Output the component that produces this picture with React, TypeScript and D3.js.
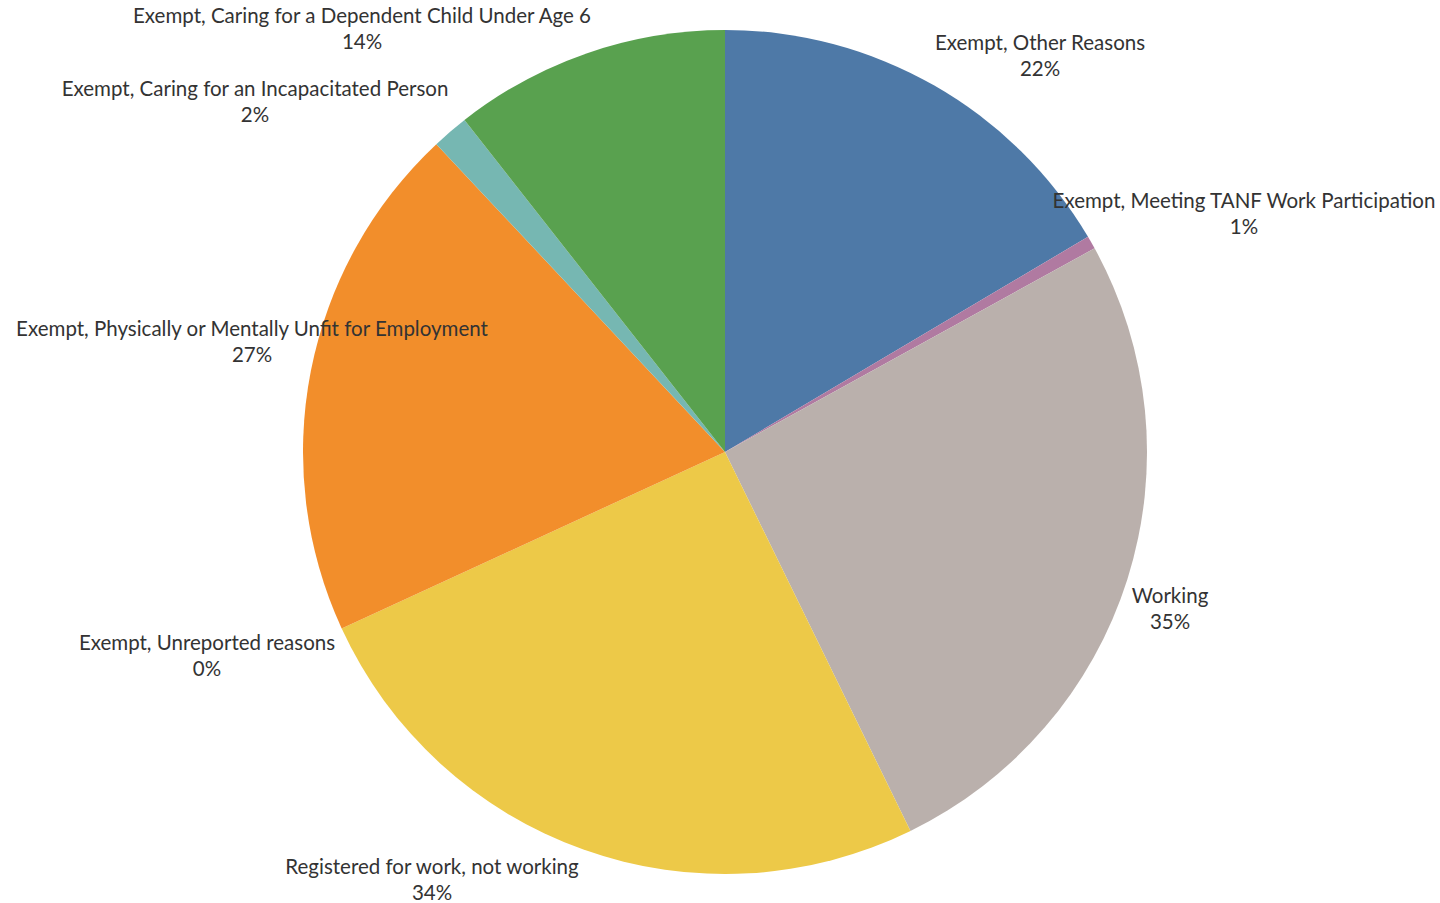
import React, { useEffect, useRef } from 'react';
import * as d3 from 'd3';

// categories in drawing order (clockwise from 12 o'clock)
const categories = [
  'Exempt, Other Reasons',
  'Exempt, Meeting TANF Work Participation',
  'Working',
  'Registered for work, not working',
  'Exempt, Unreported reasons',
  'Exempt, Physically or Mentally Unfit for Employment',
  'Exempt, Caring for an Incapacitated Person',
  'Exempt, Caring for a Dependent Child Under Age 6',
];
// slice sizes (share of the circle, %)
const sliceValues = [16.5, 0.5, 25.8, 25.4, 0, 19.9, 1.4, 10.6];
// percentage labels as printed
const pctLabels = ['22%', '1%', '35%', '34%', '0%', '27%', '2%', '14%'];
const colors = ['#4E79A7', '#B07AA1', '#BAB0AC', '#EDC948', '#E15759', '#F28E2B', '#76B7B2', '#59A14F'];

// label anchors relative to the pie centre (first-line baseline)
const labelOffsets: [number, number][] = [
  [315, -403],
  [519, -245],
  [445, 150],
  [-293, 421],
  [-518, 197],
  [-473, -117],
  [-470, -357],
  [-363, -430],
];

const W = 1440;
const H = 903;
const CX = 725;
const CY = 452;
const R = 422;

export default function App() {
  const ref = useRef<SVGSVGElement>(null);

  useEffect(() => {
    if (!ref.current) return;
    const svg = d3.select(ref.current);
    svg.selectAll('*').remove();

    const pie = d3.pie<number>().sort(null).value(d => d);
    const arcs = pie(sliceValues);
    const arc = d3.arc<d3.PieArcDatum<number>>().innerRadius(0).outerRadius(R);

    const g = svg.append('g').attr('transform', `translate(${CX},${CY})`);

    g.selectAll('path')
      .data(arcs)
      .join('path')
      .attr('d', arc)
      .attr('fill', (_, i) => colors[i]);

    // labels
    const lab = g.selectAll('text')
      .data(categories)
      .join('text')
      .attr('x', (_, i) => labelOffsets[i][0])
      .attr('y', (_, i) => labelOffsets[i][1] + 1)
      .attr('text-anchor', 'middle')
      .attr('fill', '#333333')
      .attr('font-family', 'Lato, sans-serif')
      .attr('font-size', '20.5px');

    lab.append('tspan').text(d => d);
    lab.append('tspan')
      .attr('x', (_, i) => labelOffsets[i][0])
      .attr('dy', 26)
      .text((_, i) => pctLabels[i]);
  }, []);

  return (
    <div style={{ position: 'fixed', left: 0, top: 0, width: W, height: H, background: '#fff' }}>
      <svg ref={ref} width={W} height={H} />
    </div>
  );
}
